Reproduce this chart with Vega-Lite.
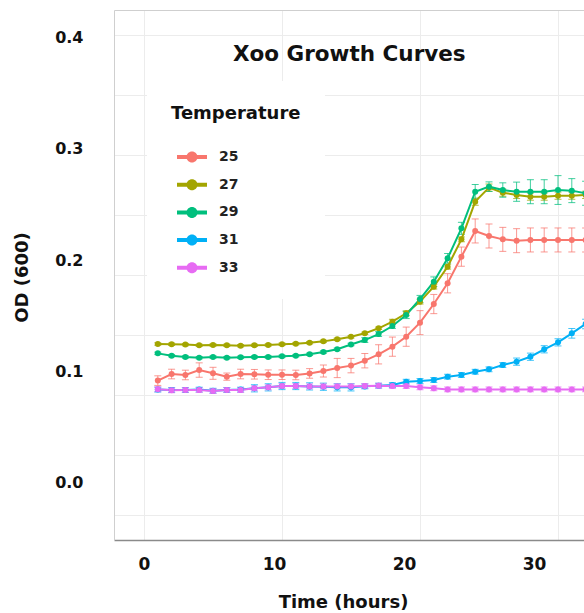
{
  "$schema": "https://vega.github.io/schema/vega-lite/v6.json",
  "width": 470,
  "height": 530,
  "autosize": {"type": "none"},
  "padding": {"left": 114, "top": 10, "right": 0, "bottom": 73},
  "background": "white",
  "config": {"view": {"stroke": null}, "font": "DejaVu Sans"},
  "title": {"text": "Xoo Growth Curves", "anchor": "start", "frame": "group", "offset": 0, "dx": 119, "dy": 66, "fontSize": 21.5, "fontWeight": "bold", "font": "DejaVu Sans", "color": "#111111", "baseline": "middle"},
  "data": {"values": [
    {"t":1,"temp":"25","od":0.112,"e":0.004},{"t":2,"temp":"25","od":0.1175,"e":0.004},{"t":3,"temp":"25","od":0.1167,"e":0.004},{"t":4,"temp":"25","od":0.1208,"e":0.006},{"t":5,"temp":"25","od":0.1181,"e":0.005},{"t":6,"temp":"25","od":0.1153,"e":0.003},{"t":7,"temp":"25","od":0.1175,"e":0.004},{"t":8,"temp":"25","od":0.1173,"e":0.004},{"t":9,"temp":"25","od":0.1169,"e":0.004},{"t":10,"temp":"25","od":0.1169,"e":0.004},{"t":11,"temp":"25","od":0.1167,"e":0.004},{"t":12,"temp":"25","od":0.118,"e":0.004},{"t":13,"temp":"25","od":0.12,"e":0.005},{"t":14,"temp":"25","od":0.1225,"e":0.008},{"t":15,"temp":"25","od":0.1245,"e":0.006},{"t":16,"temp":"25","od":0.1286,"e":0.006},{"t":17,"temp":"25","od":0.1339,"e":0.008},{"t":18,"temp":"25","od":0.1403,"e":0.008},{"t":19,"temp":"25","od":0.1486,"e":0.008},{"t":20,"temp":"25","od":0.1603,"e":0.01},{"t":21,"temp":"25","od":0.1758,"e":0.008},{"t":22,"temp":"25","od":0.1931,"e":0.008},{"t":23,"temp":"25","od":0.2153,"e":0.008},{"t":24,"temp":"25","od":0.2367,"e":0.01},{"t":25,"temp":"25","od":0.2325,"e":0.01},{"t":26,"temp":"25","od":0.2297,"e":0.01},{"t":27,"temp":"25","od":0.2286,"e":0.01},{"t":28,"temp":"25","od":0.2292,"e":0.01},{"t":29,"temp":"25","od":0.2292,"e":0.01},{"t":30,"temp":"25","od":0.2292,"e":0.01},{"t":31,"temp":"25","od":0.2292,"e":0.01},{"t":32,"temp":"25","od":0.2292,"e":0.01},
    {"t":1,"temp":"27","od":0.1425,"e":0.001},{"t":2,"temp":"27","od":0.1423,"e":0.001},{"t":3,"temp":"27","od":0.142,"e":0.001},{"t":4,"temp":"27","od":0.1414,"e":0.001},{"t":5,"temp":"27","od":0.1417,"e":0.001},{"t":6,"temp":"27","od":0.1414,"e":0.001},{"t":7,"temp":"27","od":0.1411,"e":0.001},{"t":8,"temp":"27","od":0.1414,"e":0.001},{"t":9,"temp":"27","od":0.1417,"e":0.001},{"t":10,"temp":"27","od":0.1423,"e":0.001},{"t":11,"temp":"27","od":0.1428,"e":0.001},{"t":12,"temp":"27","od":0.1436,"e":0.001},{"t":13,"temp":"27","od":0.1447,"e":0.001},{"t":14,"temp":"27","od":0.1464,"e":0.001},{"t":15,"temp":"27","od":0.1485,"e":0.001},{"t":16,"temp":"27","od":0.1514,"e":0.001},{"t":17,"temp":"27","od":0.1556,"e":0.001},{"t":18,"temp":"27","od":0.1611,"e":0.002},{"t":19,"temp":"27","od":0.1681,"e":0.002},{"t":20,"temp":"27","od":0.1778,"e":0.002},{"t":21,"temp":"27","od":0.1903,"e":0.002},{"t":22,"temp":"27","od":0.2069,"e":0.002},{"t":23,"temp":"27","od":0.2297,"e":0.002},{"t":24,"temp":"27","od":0.2611,"e":0.003},{"t":25,"temp":"27","od":0.2728,"e":0.003},{"t":26,"temp":"27","od":0.2686,"e":0.003},{"t":27,"temp":"27","od":0.2667,"e":0.003},{"t":28,"temp":"27","od":0.2653,"e":0.003},{"t":29,"temp":"27","od":0.2653,"e":0.003},{"t":30,"temp":"27","od":0.2661,"e":0.003},{"t":31,"temp":"27","od":0.2661,"e":0.003},{"t":32,"temp":"27","od":0.2667,"e":0.003},
    {"t":1,"temp":"29","od":0.1347,"e":0.001},{"t":2,"temp":"29","od":0.1328,"e":0.001},{"t":3,"temp":"29","od":0.1317,"e":0.001},{"t":4,"temp":"29","od":0.1311,"e":0.001},{"t":5,"temp":"29","od":0.1317,"e":0.001},{"t":6,"temp":"29","od":0.1311,"e":0.001},{"t":7,"temp":"29","od":0.1314,"e":0.001},{"t":8,"temp":"29","od":0.1317,"e":0.001},{"t":9,"temp":"29","od":0.1317,"e":0.001},{"t":10,"temp":"29","od":0.1322,"e":0.001},{"t":11,"temp":"29","od":0.1328,"e":0.001},{"t":12,"temp":"29","od":0.1339,"e":0.001},{"t":13,"temp":"29","od":0.1358,"e":0.001},{"t":14,"temp":"29","od":0.1381,"e":0.001},{"t":15,"temp":"29","od":0.1421,"e":0.001},{"t":16,"temp":"29","od":0.1458,"e":0.002},{"t":17,"temp":"29","od":0.1508,"e":0.002},{"t":18,"temp":"29","od":0.1575,"e":0.002},{"t":19,"temp":"29","od":0.1667,"e":0.003},{"t":20,"temp":"29","od":0.18,"e":0.003},{"t":21,"temp":"29","od":0.1944,"e":0.004},{"t":22,"temp":"29","od":0.2139,"e":0.004},{"t":23,"temp":"29","od":0.2389,"e":0.005},{"t":24,"temp":"29","od":0.2694,"e":0.006},{"t":25,"temp":"29","od":0.2736,"e":0.004},{"t":26,"temp":"29","od":0.2708,"e":0.006},{"t":27,"temp":"29","od":0.2694,"e":0.008},{"t":28,"temp":"29","od":0.2694,"e":0.01},{"t":29,"temp":"29","od":0.2694,"e":0.01},{"t":30,"temp":"29","od":0.2708,"e":0.012},{"t":31,"temp":"29","od":0.2703,"e":0.01},{"t":32,"temp":"29","od":0.2681,"e":0.01},
    {"t":1,"temp":"31","od":0.1045,"e":0.002},{"t":2,"temp":"31","od":0.1042,"e":0.002},{"t":3,"temp":"31","od":0.1042,"e":0.002},{"t":4,"temp":"31","od":0.1045,"e":0.002},{"t":5,"temp":"31","od":0.1036,"e":0.002},{"t":6,"temp":"31","od":0.1042,"e":0.002},{"t":7,"temp":"31","od":0.1045,"e":0.002},{"t":8,"temp":"31","od":0.1056,"e":0.003},{"t":9,"temp":"31","od":0.1064,"e":0.003},{"t":10,"temp":"31","od":0.1075,"e":0.003},{"t":11,"temp":"31","od":0.1075,"e":0.003},{"t":12,"temp":"31","od":0.1072,"e":0.003},{"t":13,"temp":"31","od":0.1069,"e":0.003},{"t":14,"temp":"31","od":0.1064,"e":0.003},{"t":15,"temp":"31","od":0.1064,"e":0.003},{"t":16,"temp":"31","od":0.1072,"e":0.002},{"t":17,"temp":"31","od":0.1078,"e":0.002},{"t":18,"temp":"31","od":0.1083,"e":0.002},{"t":19,"temp":"31","od":0.1111,"e":0.002},{"t":20,"temp":"31","od":0.1117,"e":0.002},{"t":21,"temp":"31","od":0.1125,"e":0.002},{"t":22,"temp":"31","od":0.1153,"e":0.002},{"t":23,"temp":"31","od":0.1167,"e":0.002},{"t":24,"temp":"31","od":0.1194,"e":0.002},{"t":25,"temp":"31","od":0.1214,"e":0.002},{"t":26,"temp":"31","od":0.125,"e":0.002},{"t":27,"temp":"31","od":0.1278,"e":0.003},{"t":28,"temp":"31","od":0.1319,"e":0.003},{"t":29,"temp":"31","od":0.1381,"e":0.003},{"t":30,"temp":"31","od":0.1439,"e":0.003},{"t":31,"temp":"31","od":0.1514,"e":0.004},{"t":32,"temp":"31","od":0.1592,"e":0.004},
    {"t":1,"temp":"33","od":0.1048,"e":0.002},{"t":2,"temp":"33","od":0.1039,"e":0.002},{"t":3,"temp":"33","od":0.1042,"e":0.002},{"t":4,"temp":"33","od":0.1042,"e":0.002},{"t":5,"temp":"33","od":0.1033,"e":0.002},{"t":6,"temp":"33","od":0.1042,"e":0.002},{"t":7,"temp":"33","od":0.1042,"e":0.002},{"t":8,"temp":"33","od":0.1056,"e":0.002},{"t":9,"temp":"33","od":0.1064,"e":0.002},{"t":10,"temp":"33","od":0.1075,"e":0.002},{"t":11,"temp":"33","od":0.1075,"e":0.002},{"t":12,"temp":"33","od":0.1072,"e":0.002},{"t":13,"temp":"33","od":0.1072,"e":0.002},{"t":14,"temp":"33","od":0.1072,"e":0.002},{"t":15,"temp":"33","od":0.1072,"e":0.002},{"t":16,"temp":"33","od":0.1075,"e":0.002},{"t":17,"temp":"33","od":0.1078,"e":0.002},{"t":18,"temp":"33","od":0.1075,"e":0.002},{"t":19,"temp":"33","od":0.1075,"e":0.002},{"t":20,"temp":"33","od":0.1064,"e":0.002},{"t":21,"temp":"33","od":0.1056,"e":0.002},{"t":22,"temp":"33","od":0.1047,"e":0.002},{"t":23,"temp":"33","od":0.1047,"e":0.002},{"t":24,"temp":"33","od":0.1047,"e":0.002},{"t":25,"temp":"33","od":0.1047,"e":0.002},{"t":26,"temp":"33","od":0.1047,"e":0.002},{"t":27,"temp":"33","od":0.1047,"e":0.002},{"t":28,"temp":"33","od":0.1047,"e":0.002},{"t":29,"temp":"33","od":0.1047,"e":0.002},{"t":30,"temp":"33","od":0.1047,"e":0.002},{"t":31,"temp":"33","od":0.1047,"e":0.002},{"t":32,"temp":"33","od":0.1047,"e":0.002}
  ]},
  "layer": [
    {
      "encoding": {
        "x": {"field": "t", "type": "quantitative", "scale": {"domain": [-2.174, 31.884], "nice": false, "zero": false},
              "axis": {"orient": "top", "title": null, "labels": false, "ticks": false, "domain": true, "domainColor": "#cfcfcf", "grid": true, "gridColor": "#ececec", "values": [0, 10, 20, 30]}},
        "y": {"field": "od", "type": "quantitative", "scale": {"domain": [-0.0208, 0.4208], "nice": false, "zero": false},
              "axis": {"orient": "right", "title": null, "labels": false, "ticks": false, "domain": false, "grid": true, "gridColor": "#ececec", "values": [0, 0.05, 0.1, 0.15, 0.2, 0.25, 0.3, 0.35, 0.4]}},
        "color": {"field": "temp", "type": "nominal",
                  "scale": {"domain": ["25", "27", "29", "31", "33"], "range": ["#F8766D", "#A3A500", "#00BF7D", "#00B0F6", "#E76BF3"]},
                  "legend": {"orient": "none", "legendX": 33, "legendY": 71, "title": "Temperature", "fillColor": "white", "padding": 24,
                             "titleFont": "DejaVu Sans", "titleFontSize": 18, "titleFontWeight": "bold", "titleColor": "#111111", "titlePadding": 24,
                             "labelFont": "DejaVu Sans", "labelFontSize": 14, "labelFontWeight": "bold", "labelColor": "#222222",
                             "symbolType": "M-1.5,-0.2L1.5,-0.2L1.5,0.2L-1.5,0.2Z M0.55,0A0.55,0.55,0,1,1,-0.55,0A0.55,0.55,0,1,1,0.55,0Z",
                             "symbolSize": 400, "rowPadding": 10.7, "symbolOffset": 11, "labelOffset": 17,
                             "encode": {"symbols": {"update": {"fill": {"scale": "color", "field": "value"}, "stroke": {"value": "transparent"}, "strokeWidth": {"value": 0}, "opacity": {"value": 1}}}}}}
      },
      "layer": [
        {"mark": {"type": "errorbar", "ticks": {"size": 7}, "opacity": 0.75}, "encoding": {"yError": {"field": "e"}}},
        {"mark": {"type": "line", "strokeWidth": 2}},
        {"mark": {"type": "point", "filled": true, "size": 36, "opacity": 1}}
      ]
    },
    {
      "mark": {"type": "point", "opacity": 0},
      "encoding": {
        "x": {"field": "t", "type": "quantitative", "scale": {"domain": [-2.308, 33.846], "nice": false, "zero": false},
              "axis": {"orient": "bottom", "title": "Time (hours)", "values": [0, 10, 20, 30], "labelFont": "DejaVu Sans", "labelFontSize": 17, "labelFontWeight": "bold", "labelColor": "#111111", "labelPadding": 16, "labelBaseline": "top",
                       "ticks": false, "domain": true, "domainColor": "#8a8a8a", "domainWidth": 1.5, "grid": false,
                       "titleFont": "DejaVu Sans", "titleFontSize": 18, "titleFontWeight": "bold", "titleColor": "#111111", "titleX": 229, "titleY": 62, "titleBaseline": "middle", "titleAlign": "center"}},
        "y": {"field": "od", "type": "quantitative", "scale": {"domain": [-0.0522, 0.4252], "nice": false, "zero": false},
              "axis": {"orient": "left", "title": "OD (600)", "values": [0, 0.1, 0.2, 0.3, 0.4], "format": ".1f", "labelFont": "DejaVu Sans", "labelFontSize": 16, "labelFontWeight": "bold", "labelColor": "#111111", "labelPadding": 31,
                       "ticks": false, "domain": true, "domainColor": "#cfcfcf", "grid": false,
                       "titleFont": "DejaVu Sans", "titleFontSize": 18, "titleFontWeight": "bold", "titleColor": "#111111", "titleX": -92, "titleY": 267, "titleAngle": -90, "titleBaseline": "middle", "titleAlign": "center"}}
      }
    }
  ],
  "resolve": {"scale": {"x": "independent", "y": "independent"}}
}
